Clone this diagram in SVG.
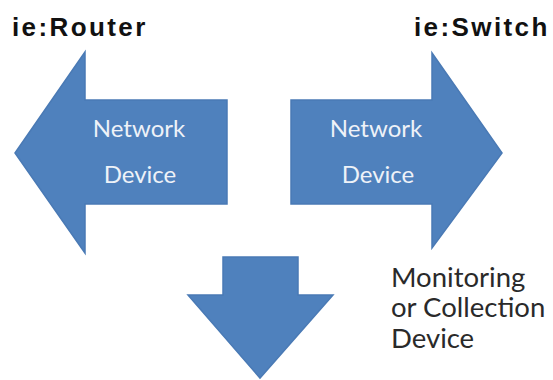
<svg xmlns="http://www.w3.org/2000/svg" width="553" height="380" viewBox="0 0 553 380">
  <style>
    .arrow { fill: #4f81bd; stroke: #4a7ab5; stroke-width: 1.5; stroke-linejoin: miter; }
    .title { font-family: "Liberation Sans", Arial, sans-serif; font-weight: bold; font-size: 26px; fill: #111; letter-spacing: 2.4px; }
    .inner { font-family: Lato, "Open Sans", sans-serif; font-size: 24px; fill: #eef2f8; text-anchor: middle; }
    .label { font-family: Lato, "Open Sans", sans-serif; font-size: 27.5px; fill: #2a2a2a; }
  </style>
  <rect width="553" height="380" fill="#ffffff"/>

  <g id="router">
    <text class="title" x="12" y="36">ie:Router</text>
    <path class="arrow" d="M15,153 L85,52 L85,100 L227,100 L227,204 L85,204 L85,253 Z"/>
    <text class="inner" x="139" y="137">Network</text>
    <text class="inner" x="140" y="183">Device</text>
  </g>

  <g id="switch">
    <text class="title" x="414" y="36">ie:Switch</text>
    <path class="arrow" d="M502,153 L432,53 L432,100 L291,100 L291,204 L432,204 L432,248 Z"/>
    <text class="inner" x="376" y="137">Network</text>
    <text class="inner" x="378" y="183">Device</text>
  </g>

  <g id="collector">
    <path class="arrow" d="M223,257 L298,257 L298,295 L333,295 L260,378 L188,295 L223,295 Z"/>
    <text class="label" x="391" y="287">Monitoring</text>
    <text class="label" x="391" y="317">or Collection</text>
    <text class="label" x="391" y="348">Device</text>
  </g>
</svg>
